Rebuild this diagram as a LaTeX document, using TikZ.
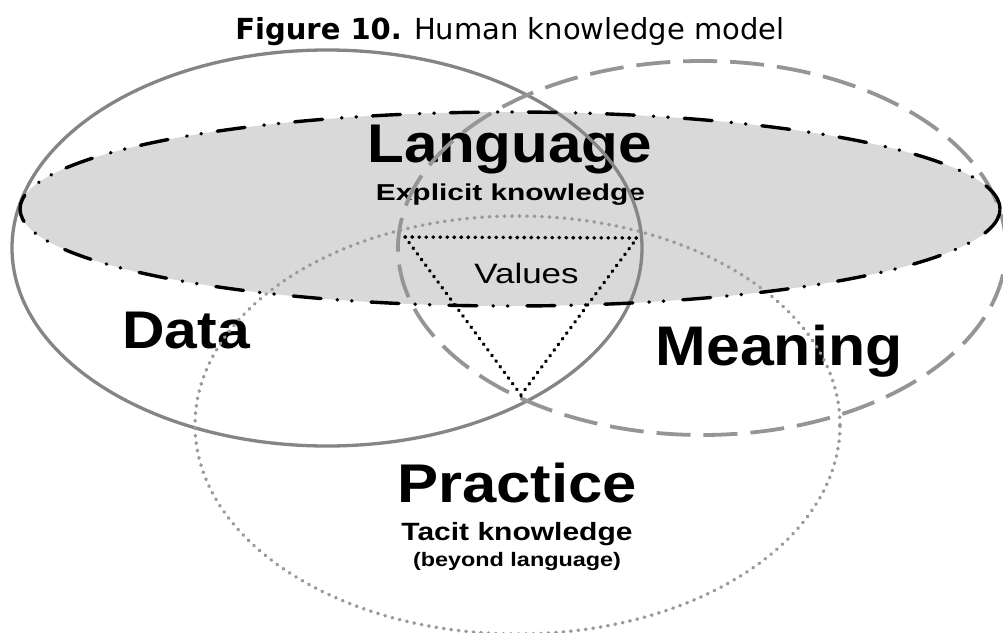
\documentclass[tikz,border=0pt]{standalone}
\usepackage{fontspec}
\setmainfont{Liberation Sans}
\newfontfamily\titlefont{DejaVu Sans}
\usepackage{graphicx}
\definecolor{langfill}{HTML}{D9D9D9}
\definecolor{solidgray}{HTML}{858585}
\definecolor{dashgray}{HTML}{959595}
\definecolor{dotgray}{HTML}{999999}
\newcommand{\lbl}[3]{\scalebox{#1}[1]{\fontsize{#2}{#2}\selectfont #3}}
\begin{document}
\begin{tikzpicture}[x=1pt,y=-1pt,
  lbl/.style={anchor=base, inner sep=0pt, font=\bfseries},
  vlbl/.style={anchor=base, inner sep=0pt},
  dataline/.style={draw=solidgray, line width=3.3pt},
  meanline/.style={draw=dashgray, line width=3.8pt, dash pattern=on 34pt off 13pt},
  pracline/.style={draw=dotgray, line width=3.6pt, line cap=round, dash pattern=on 0.5pt off 7pt},
  langline/.style={draw=black, line width=3.4pt, line cap=round, dash pattern=on 28pt off 16pt on 0.5pt off 14pt on 0.5pt off 19pt},
  triline/.style={draw=black, line width=3.6pt, line cap=round, dash pattern=on 0.5pt off 6.5pt}]
\fill[white] (0,0) rectangle (1003,632);
\useasboundingbox (0,0) rectangle (1003,632);
% title
\node[anchor=base, inner sep=0pt] (title) at (510,39)
  {\titlefont\fontsize{29}{29}\selectfont\textbf{Figure 10.} Human knowledge model};
% language fill
\fill[langfill] (510,209) ellipse [x radius=490pt, y radius=97pt];
% labels
\node[lbl] (language) at (510,162) {\lbl{1.105}{54.5}{Language}};
\node[lbl] (explicit) at (510.5,200) {\lbl{1.3}{23}{Explicit knowledge}};
\node[vlbl] (values) at (526.5,283) {\lbl{1.25}{28}{Values}};
\node[lbl] (data) at (186,348) {\lbl{1.11}{53}{Data}};
\node[lbl] (meaning) at (779,365) {\lbl{1.09}{55.8}{Meaning}};
\node[lbl] (practice) at (517,502) {\lbl{1.13}{54.5}{Practice}};
\node[lbl] (tacit) at (517,540) {\lbl{1.2}{25}{Tacit knowledge}};
\node[lbl] (beyond) at (517,566) {\lbl{1.2}{19.5}{(beyond language)}};
% outlines
\draw[dataline] (327,248) ellipse [x radius=315pt, y radius=198pt];
\draw[meanline] (702,248) ellipse [x radius=304pt, y radius=187pt];
\draw[pracline] (517.5,425) ellipse [x radius=322.5pt, y radius=209pt];
\draw[langline] (510,209) ellipse [x radius=490pt, y radius=97pt];
% values triangle
\coordinate (v1) at (405,237);
\coordinate (v2) at (637,238);
\coordinate (v3) at (521,395);
\draw[triline] (v1) -- (v2) -- (v3) -- cycle;
\end{tikzpicture}
\end{document}
